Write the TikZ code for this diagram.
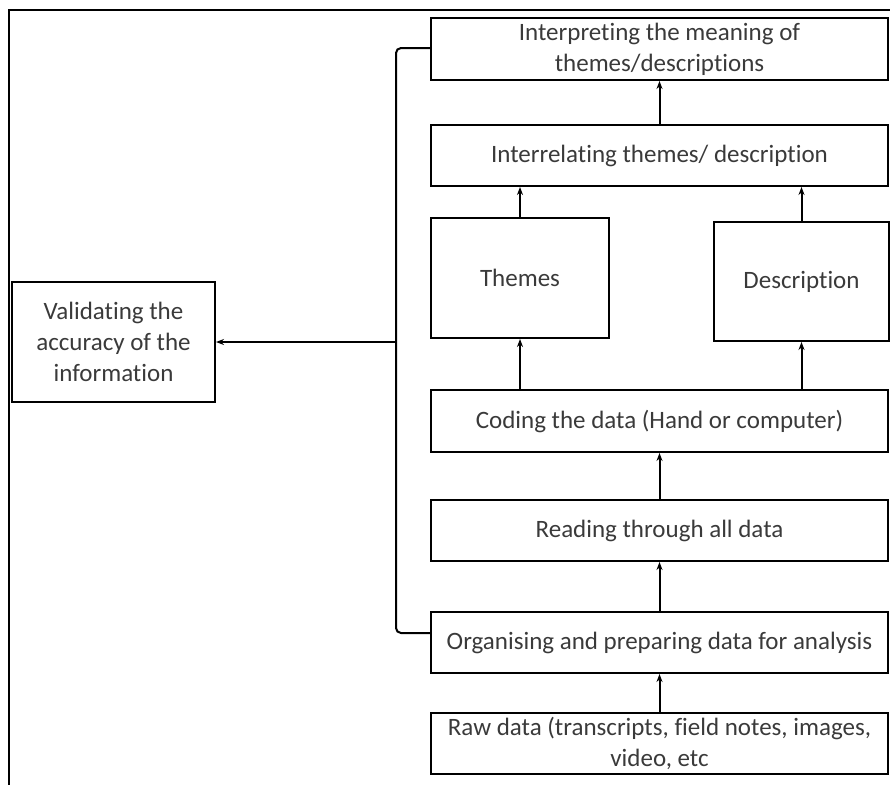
\documentclass[tikz,border=0pt]{standalone}
\usepackage{fontspec}
\setmainfont[Ligatures=NoCommon]{Carlito}
\usetikzlibrary{arrows.meta}
\definecolor{txt}{HTML}{3A3A3A}
\tikzset{
  box/.style={draw, line width=2pt, rectangle, inner sep=0pt, align=center,
    text=txt, font=\fontsize{25}{31}\selectfont},
  flow/.style={line width=2pt, -{Stealth[length=8pt,width=6pt]}},
  frameline/.style={line width=2.4pt},
}
\begin{document}
\begin{tikzpicture}[x=1pt,y=-1pt]
\useasboundingbox (0,0) rectangle (890,785);
% outer frame
\coordinate (ftr) at (890,10);
\coordinate (ftl) at (9,10);
\coordinate (fbl) at (9,785);
\draw[frameline] (ftr) -- (ftl) -- (fbl);

% process boxes
\node[box, minimum width=457, minimum height=62] (interp) at (659.5,49)
  {Interpreting the meaning of\\themes/descriptions};
\node[box, minimum width=457, minimum height=61] (interrel) at (659.5,155.5)
  {Interrelating themes/ description};
\node[box, minimum width=178, minimum height=120] (themes) at (520,278) {Themes};
\node[box, minimum width=175, minimum height=119] (descr) at (801.5,281.5) {Description};
\node[box, minimum width=457, minimum height=62] (coding) at (659.5,421)
  {Coding the data (Hand or computer)};
\node[box, minimum width=457, minimum height=61] (reading) at (659.5,530.5)
  {Reading through all data};
\node[box, minimum width=457, minimum height=61] (organ) at (659.5,642.5)
  {Organising and preparing data for analysis};
\node[box, minimum width=457, minimum height=61] (raw) at (659.5,743.5)
  {Raw data (transcripts, field notes, images,\\video, etc};
\node[box, minimum width=203, minimum height=120] (valid) at (113.5,342)
  {Validating the\\accuracy of the\\information};

% upward flow
\draw[flow] (raw.north) -- (organ.south);
\draw[flow] (organ.north) -- (reading.south);
\draw[flow] (reading.north) -- (coding.south);
\draw[flow] (coding.north -| themes.north) -- (themes.south);
\draw[flow] (coding.north -| descr.north) -- (descr.south);
\draw[flow] (themes.north) -- (themes.north |- interrel.south);
\draw[flow] (descr.north) -- (descr.north |- interrel.south);
\draw[flow] (interrel.north) -- (interp.south);

% bracket spanning the analysis steps
\coordinate (btop) at (interp.west |- 0,48);
\coordinate (bbot) at (organ.west |- 0,633);
\coordinate (bmid) at (396,342);
\draw[line width=2pt, rounded corners=5pt] (btop) -| (bmid) |- (bbot);
\draw[flow] (bmid) -- (valid.east);
\end{tikzpicture}
\end{document}
